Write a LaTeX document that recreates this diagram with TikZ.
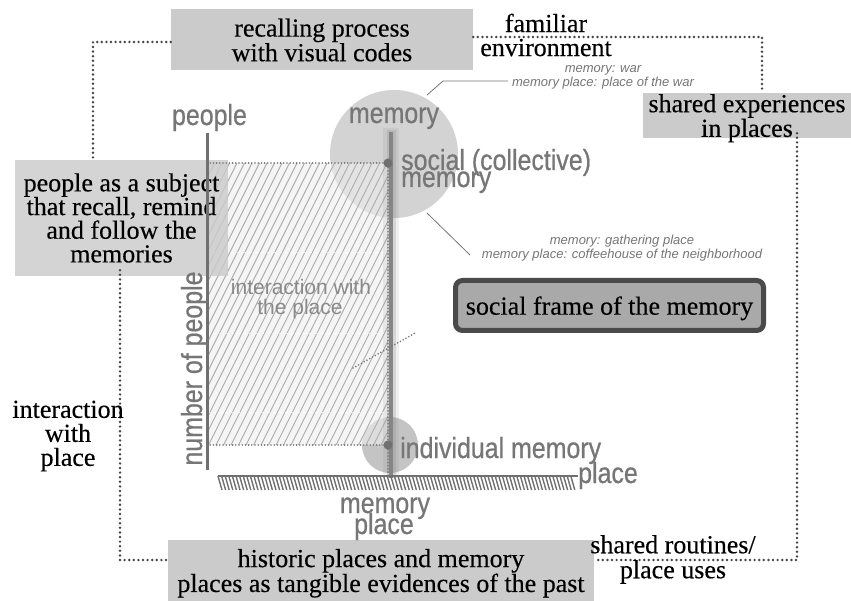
\documentclass[tikz,border=0pt]{standalone}
\usepackage{fontspec}
\setmainfont{Liberation Serif}[FakeBold=0.3]
\newfontfamily\sansf{Liberation Sans}[FakeStretch=0.86, FakeBold=0.6]
\newfontfamily\sansplain{Liberation Sans}
\definecolor{boxgray}{HTML}{CBCBCB}
\definecolor{txtgray}{HTML}{767676}
\definecolor{dotgray}{HTML}{454545}
\definecolor{framefill}{HTML}{A9A9A9}
\definecolor{frameline}{HTML}{4A4A4A}
\definecolor{circgray}{HTML}{D3D3D3}
\definecolor{hatchgray}{HTML}{ADADAD}
\definecolor{hatchbg}{HTML}{EFEFEF}
\definecolor{axisgray}{HTML}{707070}
\tikzset{
  graybox/.style={fill=boxgray, inner sep=0pt, align=center},
  sertext/.style={inner sep=0pt, align=center},
  sanslbl/.style={inner sep=0pt, text=txtgray, font=\sansf\fontsize{29}{29}\selectfont},
  smallit/.style={inner sep=0pt, text=txtgray, font=\sansplain\itshape\fontsize{13}{14}\selectfont},
  dotline/.style={draw=dotgray, line width=2.7pt, line cap=round, dash pattern=on 0pt off 4.6pt},
  finedot/.style={draw=txtgray, line width=1.8pt, line cap=round, dash pattern=on 0pt off 3.2pt},
  leader/.style={draw=txtgray, line width=0.8pt},
  memdot/.style={circle, fill=axisgray, inner sep=0pt, minimum size=9pt},
}
\begin{document}
\begin{tikzpicture}[x=1pt,y=-1pt]
\useasboundingbox (0,0) rectangle (851,601);
\fill[white] (0,0) rectangle (851,601);

% circles
\fill[circgray] (394,154) circle[radius=64pt];
\fill[circgray!88!black, opacity=0.85] (390,445) circle[radius=28pt];

% hatched interaction area
\fill[hatchbg, opacity=0.6] (207,163) rectangle (388,445);
\begin{scope}
  \clip (207,163) rectangle (388,445);
  \foreach \k in {0,...,45} \draw[hatchgray, line width=0.9pt] ({66+7.5*\k},445) -- ({207+7.5*\k},163);
  \foreach \yy in {252,333,412} \draw[white, dashed, line width=0.8pt, opacity=0.7] (207,\yy) -- (388,\yy);
\end{scope}

% boxes
\node[graybox, fill opacity=0.82, text opacity=1, minimum width=213pt, minimum height=116pt, font=\fontsize{26}{23.7}\selectfont] (people) at (121.5,218) {people as a subject\\that recall, remind\\and follow the\\memories};
\node[graybox, minimum width=302pt, minimum height=61pt, font=\fontsize{26}{23}\selectfont] (recall) at (322,40) {recalling process\\with visual codes};
\node[graybox, text depth=0pt, minimum width=208pt, minimum height=45pt, font=\fontsize{26}{20}\selectfont] (shared) at (747,115.5) {shared experiences\\in places};
\node[graybox, text depth=0pt, minimum width=426pt, minimum height=61pt, font=\fontsize{26}{22}\selectfont] (historic) at (381,570.5) {historic places and memory\\places as tangible evidences of the past};
\node[draw=frameline, line width=5pt, fill=framefill, rounded corners=7pt, minimum width=308pt, minimum height=50pt, inner sep=0pt, text depth=0pt, font=\fontsize{26}{26}\selectfont] (frame) at (609.5,305.5) {social frame of the memory};

% blurred memory axis
\draw[gray, line width=16pt, opacity=0.12] (391,128) -- (391,478);
\draw[gray, line width=9pt, opacity=0.22] (391,130) -- (391,478);
\draw[axisgray!85!white, line width=4pt] (391,132) -- (391,478);

% people axis
\coordinate (ytop) at (207,133);
\coordinate (ybot) at (207,470);
\draw[axisgray, line width=3pt] (ytop) -- (ybot);

% place axis (ground hatching)
\coordinate (xl) at (218,476);
\coordinate (xr) at (578,476);
\draw[axisgray, line width=2pt] (xl) -- (xr);
\foreach \k in {0,...,98} \draw[axisgray, line width=1.4pt] ({218+3.6*\k},476) -- ({222+3.6*\k},490);

% outer dotted frame
\coordinate (cTL) at (93,42);
\coordinate (cL) at (120,560);
\coordinate (cTR) at (762,37);
\coordinate (cR) at (797,560);
\draw[dotline] (recall.west |- cTL) -| (cTL |- people.north);
\draw[dotline] ([yshift=6pt]cL |- people.south) -- (cL) -- (cL -| historic.west);
\draw[dotline] (recall.east |- cTR) -| (cTR |- shared.north);
\draw[dotline] ([yshift=5pt]cR |- shared.south) -- (cR) -- (cR -| historic.east);

% memory points and dotted guides
\node[memdot] (dtop) at (388,163) {};
\node[memdot] (dbot) at (388,445) {};
\coordinate (htop) at (207,163);
\coordinate (hbot) at (207,445);
\coordinate (vend) at (388,476);
\draw[finedot] (htop) -- (dtop);
\draw[finedot] (hbot) -- (dbot);
\draw[finedot] (dtop) -- (dbot) -- (vend);
\coordinate (dg1) at (353,368);
\coordinate (dg2) at (417,332);
\draw[finedot] (dg1) -- (dg2);

% leaders
\coordinate (la1) at (427,95);
\coordinate (la2) at (443,81);
\coordinate (la3) at (508,81);
\draw[leader] (la1) -- (la2) -- (la3);
\coordinate (lb1) at (427,213);
\coordinate (lb2) at (470,255);
\draw[leader] (lb1) -- (lb2);

% italic notes
\node[smallit, anchor=base] (war1) at (603,73) {memory: war};
\node[smallit, anchor=base] (war2) at (603,87) {memory place: place of the war};
\node[smallit, anchor=base] (gat1) at (622,245) {memory: gathering place};
\node[smallit, anchor=base] (gat2) at (622,259) {memory place: coffeehouse of the neighborhood};

% sans labels
\node[sanslbl, anchor=base] (lpeople) at (209.5,125) {people};
\node[sanslbl, anchor=base] (lmemtop) at (394,123) {memory};
\node[sanslbl, anchor=base west] (lsocial) at (401,170) {social (collective)};
\node[sanslbl, anchor=base west] (lsocmem) at (401,187) {memory};
\node[sanslbl, anchor=base west] (lindiv) at (400,458) {individual memory};
\node[sanslbl, anchor=base west] (lplace) at (578,483) {place};
\node[sanslbl, anchor=base] (lmp1) at (385,513) {memory};
\node[sanslbl, anchor=base] (lmp2) at (384,534) {place};
\node[sanslbl, anchor=base, rotate=90] (lnum) at (202,368.5) {number of people};
\node[inner sep=0pt, text=txtgray!85!white, font=\sansplain\fontsize{21}{21}\selectfont, anchor=base] (lint1) at (301,295) {interaction with};
\node[inner sep=0pt, text=txtgray!85!white, font=\sansplain\fontsize{21}{21}\selectfont, anchor=base] (lint2) at (300,315) {the place};

% free serif texts
\node[sertext, font=\fontsize{26}{24}\selectfont] (familiar) at (546,35) {familiar\\environment};
\node[sertext, font=\fontsize{26}{25}\selectfont] (routines) at (673,559.5) {shared routines/\\place uses};
\node[sertext, font=\fontsize{26}{24}\selectfont] (interact) at (68,436) {interaction\\with\\place};
\end{tikzpicture}
\end{document}
